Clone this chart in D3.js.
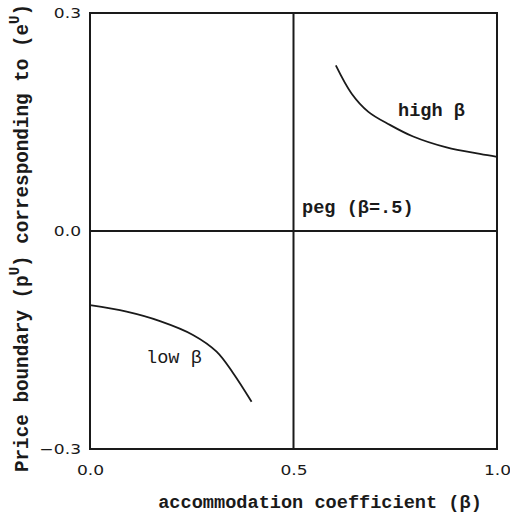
<!DOCTYPE html>
<html>
<head>
<meta charset="utf-8">
<script src="https://cdn.jsdelivr.net/npm/d3@7"></script>
<style>
  html, body { margin: 0; padding: 0; background: #fff; }
  svg { display: block; }
</style>
</head>
<body>
<svg id="chart" width="510" height="516"></svg>
<script>
// Price boundary as a function of the accommodation coefficient
const xTicks = [0.0, 0.5, 1.0];
const xTickLabels = ["0.0", "0.5", "1.0"];
const yTicks = [0.3, 0.0, -0.3];
const yTickLabels = ["0.3", "0.0", "\u22120.3"];

// high-β branch (β > .5)
const highBeta = [0.604, 0.643, 0.684, 0.737, 0.794, 0.876, 0.958, 1.0];
const highPrice = [0.228, 0.189, 0.164, 0.146, 0.130, 0.115, 0.106, 0.102];
// low-β branch (β < .5)
const lowBeta = [0.0, 0.090, 0.172, 0.253, 0.311, 0.351, 0.397];
const lowPrice = [-0.102, -0.111, -0.124, -0.143, -0.166, -0.195, -0.235];

const ink = "#1a1a1a";
const monoFont = "'Liberation Mono', 'DejaVu Sans Mono', monospace";
const tickFont = "'DejaVu Sans', sans-serif";

const svg = d3.select("#chart");
const m = { left: 90, right: 13, top: 13, bottom: 67 };
const W = 510, H = 516;

const x = d3.scaleLinear().domain([0, 1]).range([m.left, W - m.right]);
const y = d3.scaleLinear().domain([-0.3, 0.3]).range([H - m.bottom, m.top]);

// widen the tick numerals a little
function stretch(sel, k) {
  sel.each(function () {
    const len = this.getComputedTextLength();
    d3.select(this).attr("textLength", len * k).attr("lengthAdjust", "spacingAndGlyphs");
  });
}

// axes (labels only; the frame is drawn separately)
const yAxis = d3.axisLeft(y).tickValues(yTicks)
  .tickFormat((d, i) => yTickLabels[i]).tickSize(0).tickPadding(9);
const gy = svg.append("g").attr("transform", `translate(${m.left},0)`).call(yAxis);
gy.attr("font-size", null).attr("font-family", null);
gy.select(".domain").remove();
gy.selectAll("text").style("font-family", tickFont).style("font-size", "14px").attr("fill", ink)
  .call(stretch, 1.22);

const xAxis = d3.axisBottom(x).tickValues(xTicks)
  .tickFormat((d, i) => xTickLabels[i]).tickSize(0).tickPadding(16);
const gx = svg.append("g").attr("transform", `translate(0,${H - m.bottom})`).call(xAxis);
gx.attr("font-size", null).attr("font-family", null);
gx.select(".domain").remove();
gx.selectAll("text").style("font-family", tickFont).style("font-size", "14px").attr("fill", ink)
  .call(stretch, 1.22);

// frame
svg.append("rect")
  .attr("x", x(0)).attr("y", y(0.3))
  .attr("width", x(1) - x(0)).attr("height", y(-0.3) - y(0.3))
  .attr("fill", "none").attr("stroke", ink).attr("stroke-width", 2);

// peg cross-hairs at β = .5 and price = 0
svg.append("line")
  .attr("x1", x(0.5)).attr("x2", x(0.5)).attr("y1", y(0.3)).attr("y2", y(-0.3))
  .attr("stroke", ink).attr("stroke-width", 2);
svg.append("line")
  .attr("x1", x(0)).attr("x2", x(1)).attr("y1", y(0)).attr("y2", y(0))
  .attr("stroke", ink).attr("stroke-width", 2);

// curves
const line = d3.line().x(d => x(d[0])).y(d => y(d[1])).curve(d3.curveCatmullRom.alpha(0.5));
svg.append("path").datum(d3.zip(highBeta, highPrice))
  .attr("d", line).attr("fill", "none").attr("stroke", ink).attr("stroke-width", 1.8);
svg.append("path").datum(d3.zip(lowBeta, lowPrice))
  .attr("d", line).attr("fill", "none").attr("stroke", ink).attr("stroke-width", 1.8);

// annotations
const fs = 18.6;
svg.append("text").attr("x", 398).attr("y", 116)
  .attr("font-family", monoFont).attr("font-size", fs).attr("font-weight", "bold").attr("fill", ink)
  .text("high \u03B2");
svg.append("text").attr("x", 302).attr("y", 213)
  .attr("font-family", monoFont).attr("font-size", fs).attr("font-weight", "bold").attr("fill", ink)
  .text("peg (\u03B2=.5)");
svg.append("text").attr("x", 146).attr("y", 363)
  .attr("font-family", monoFont).attr("font-size", fs).attr("fill", ink)
  .text("low \u03B2");

// axis titles
svg.append("text").attr("x", 320).attr("y", 508).attr("text-anchor", "middle")
  .attr("font-family", monoFont).attr("font-size", fs).attr("font-weight", "bold").attr("fill", ink)
  .text("accommodation coefficient (\u03B2)");

const yt = svg.append("text")
  .attr("transform", "translate(28,238) rotate(-90)")
  .attr("text-anchor", "middle")
  .attr("font-family", monoFont).attr("font-size", 19.3).attr("font-weight", "bold").attr("fill", ink);
yt.append("tspan").text("Price boundary (p");
yt.append("tspan").attr("dy", -9).attr("font-size", 14).text("U");
yt.append("tspan").attr("dy", 9).text(") corresponding to (e");
yt.append("tspan").attr("dy", -9).attr("font-size", 14).text("U");
yt.append("tspan").attr("dy", 9).text(")");
</script>
</body>
</html>
